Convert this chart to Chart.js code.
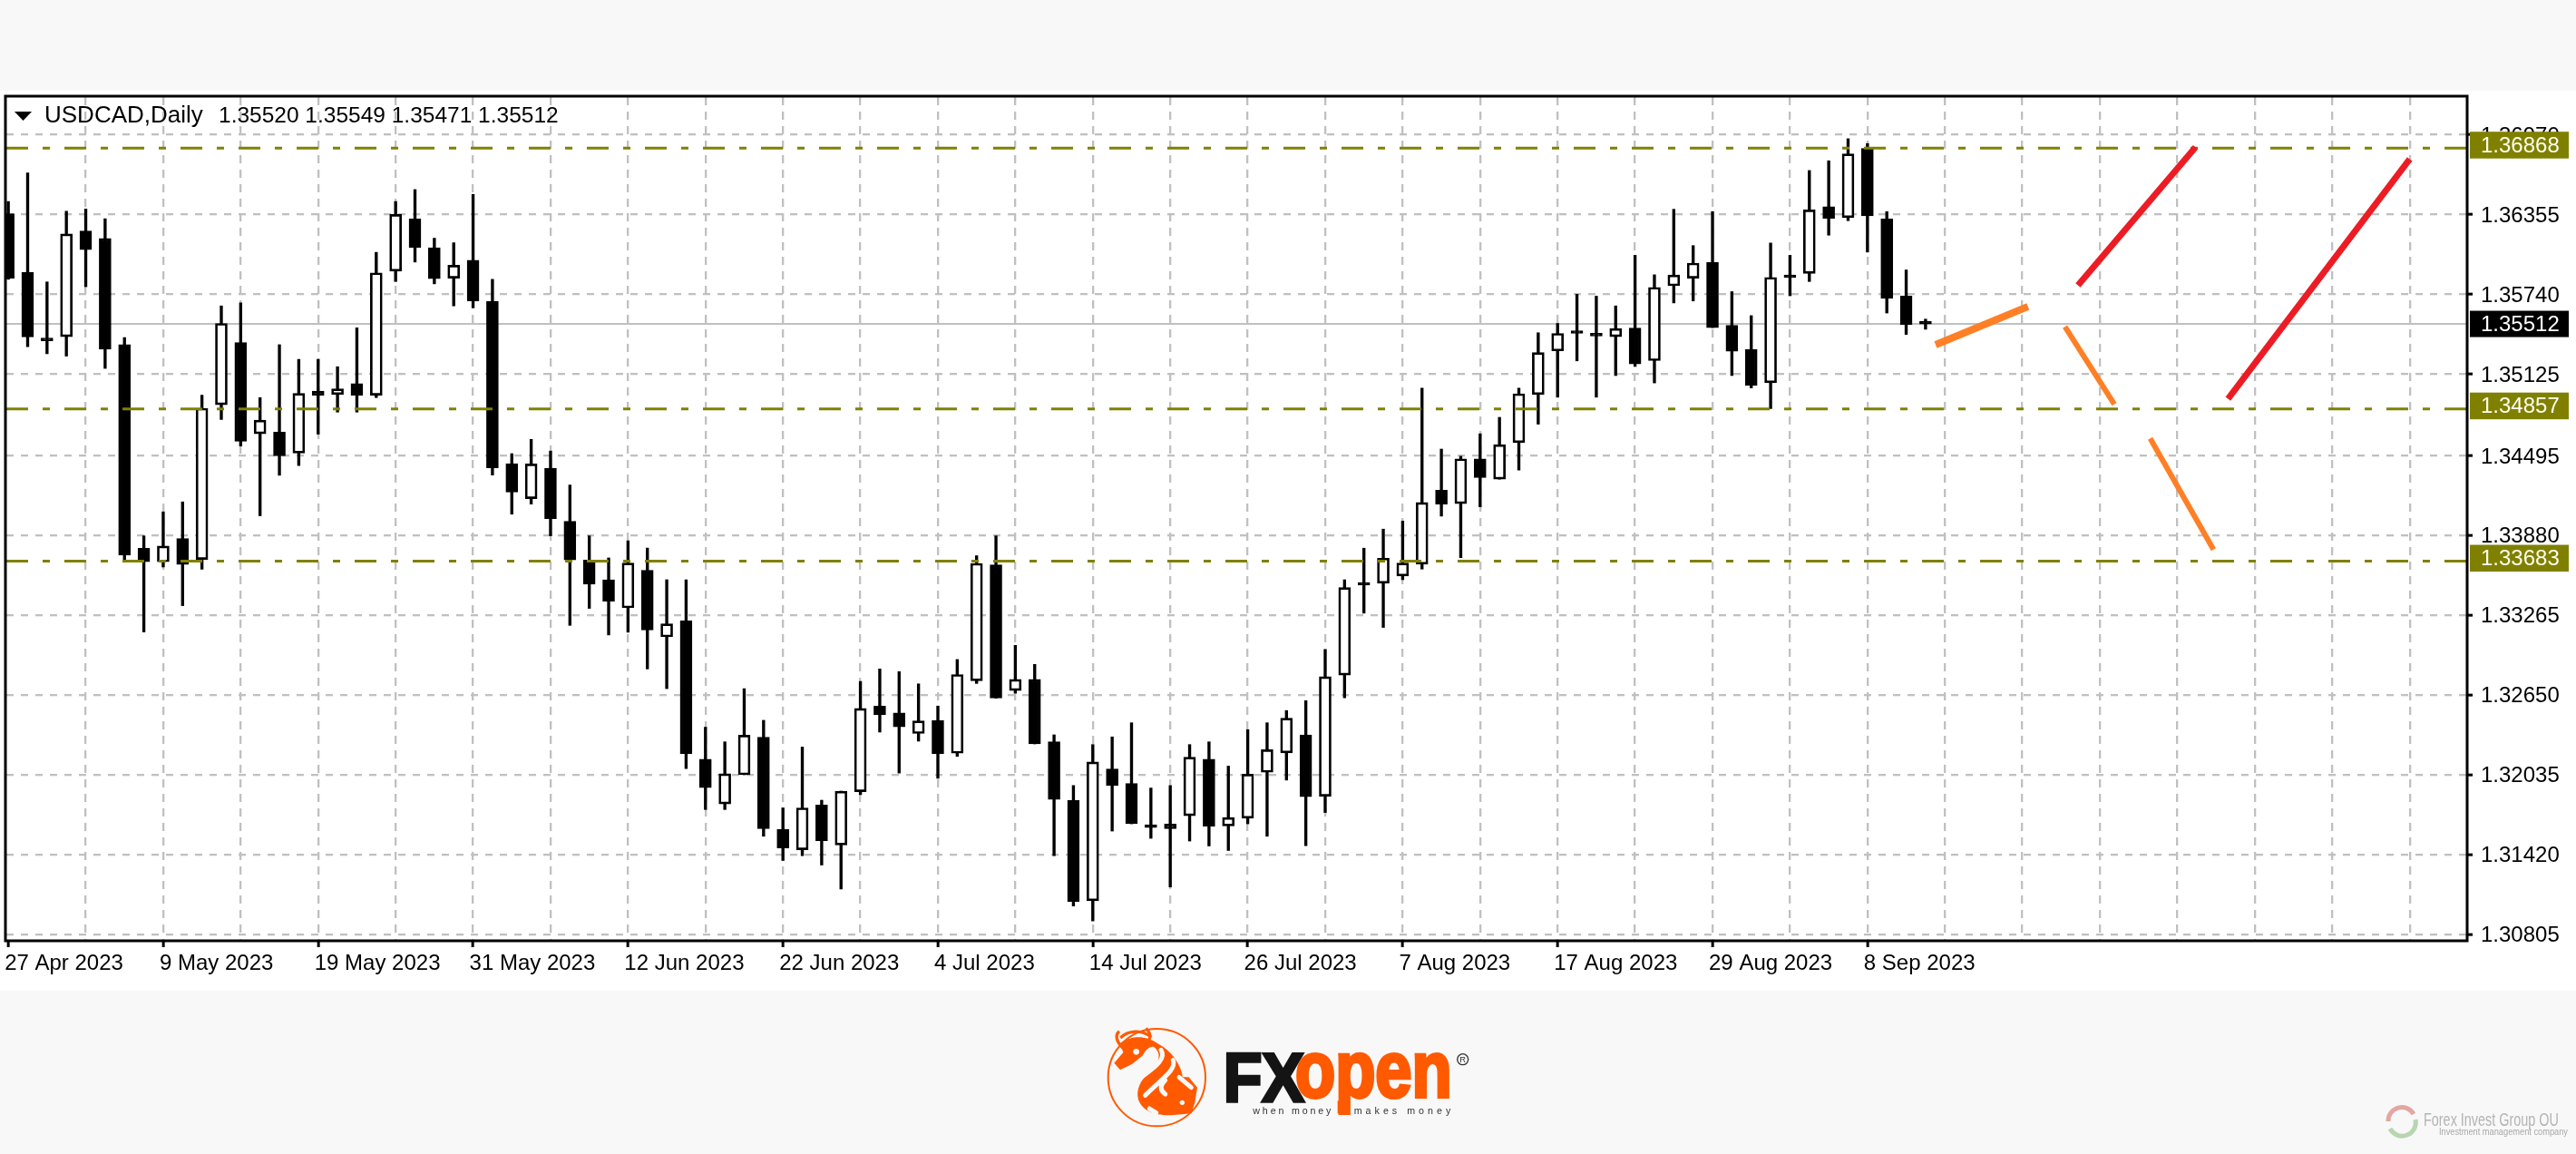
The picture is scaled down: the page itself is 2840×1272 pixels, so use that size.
<!DOCTYPE html>
<html>
<head>
<meta charset="utf-8">
<title>USDCAD,Daily</title>
<script src="https://cdn.jsdelivr.net/npm/chart.js@4"></script>
<style>
html, body { margin: 0; padding: 0; width: 2840px; height: 1272px; overflow: hidden; background: #f8f8f8; }
#sheet { position: absolute; left: 0; top: 100px; width: 2840px; height: 992px; background: #fff; }
#myChart { position: absolute; left: 0; top: 0; }
#logo { position: absolute; left: 1180px; top: 1100px; }
#partner { position: absolute; left: 2620px; top: 1212px; }
</style>
</head>
<body>
<div id="sheet"></div>
<canvas id="myChart" width="2840" height="1272"></canvas>

<svg id="logo" width="500" height="172" viewBox="0 0 1500 516" font-family="Liberation Sans">
  <circle cx="286" cy="263" r="161" fill="none" stroke="#ff5a00" stroke-width="6"/>
  <path fill="#ff5a00" d="M165 150 C200 122 252 124 288 150 C338 176 366 222 372 262 L392 262 L420 296 L412 346 L400 382 L335 388 C285 388 240 378 225 336 C215 300 236 270 260 245 C290 215 305 190 280 165 C270 155 250 168 240 190 L205 218 L165 238 L145 215 L175 180 Z"/>
  <path fill="none" stroke="#ff5a00" stroke-width="10" d="M176 168 C150 142 148 122 162 110 M238 152 C268 142 272 122 250 100 M166 132 C190 108 236 102 268 130"/>
  <path fill="none" stroke="#f8f8f8" stroke-width="15" stroke-linecap="round" d="M300 172 C322 205 262 240 236 262 M340 206 C352 240 296 272 248 322 M314 272 C296 290 296 306 314 318 M262 366 L284 380 M360 262 L400 296"/>
  <circle cx="218" cy="178" r="10" fill="#f8f8f8"/>
  <circle cx="370" cy="346" r="8" fill="#f8f8f8"/>
  <text x="506" y="342" font-size="228" font-weight="bold" fill="#141414" stroke="#141414" stroke-width="10" textLength="268" lengthAdjust="spacingAndGlyphs">FX</text>
  <text x="744" y="328" font-size="262" font-weight="bold" fill="#ff5a00" stroke="#ff5a00" stroke-width="12" textLength="518" lengthAdjust="spacingAndGlyphs">open</text>
  <rect x="884" y="340" width="38" height="42" fill="#ff5a00"/>
  <text x="604" y="384" font-size="32" fill="#333" textLength="258">when money</text>
  <text x="938" y="384" font-size="32" fill="#333" textLength="320">makes money</text>
  <circle cx="1298" cy="203" r="18" fill="none" stroke="#333" stroke-width="4"/>
  <text x="1298" y="214" font-size="28" fill="#333" text-anchor="middle">R</text>
</svg>

<svg id="partner" width="220" height="48" viewBox="0 0 220 48" font-family="Liberation Sans Narrow, Liberation Sans">
  <path d="M13 24 A15 15 0 0 1 41 16" fill="none" stroke="#e3a7a3" stroke-width="5"/>
  <path d="M43 22 A15 15 0 0 1 15 32" fill="none" stroke="#b9d5b2" stroke-width="5"/>
  <text x="52" y="29" font-size="20" fill="#b4b4b4" textLength="149" lengthAdjust="spacingAndGlyphs">Forex Invest Group OU</text>
  <text x="69" y="39" font-size="11" font-family="Liberation Sans" fill="#a8a8a8" textLength="142" lengthAdjust="spacingAndGlyphs">Investment management company</text>
</svg>

<script>
// 13 Sep is the last bar, everything right of it is the hand drawn forecast
const dateLabels = ['27 Apr 2023', '9 May 2023', '19 May 2023', '31 May 2023', '12 Jun 2023', '22 Jun 2023', '4 Jul 2023',
    '14 Jul 2023', '26 Jul 2023', '7 Aug 2023', '17 Aug 2023', '29 Aug 2023', '8 Sep 2023'];

const priceTicks = [1.36970, 1.36355, 1.35740, 1.35125, 1.34495, 1.33880, 1.33265, 1.32650, 1.32035, 1.31420, 1.30805];

const opens = [
    1.36361, 1.35911, 1.35382, 1.35414, 1.36228, 1.36171, 1.35352, 1.33783, 1.33678, 1.33858,
    1.33696, 1.34889, 1.35369, 1.34665, 1.34677, 1.34517, 1.34994, 1.34967, 1.35052, 1.34962,
    1.35919, 1.36321, 1.36099, 1.35864, 1.36004, 1.35686, 1.34435, 1.34165, 1.34400, 1.33990,
    1.33692, 1.33540, 1.33323, 1.33613, 1.33099, 1.33222, 1.32156, 1.31811, 1.32036, 1.32325,
    1.31615, 1.31458, 1.31803, 1.31495, 1.31905, 1.32566, 1.32512, 1.32354, 1.32456, 1.32202,
    1.32761, 1.33655, 1.32686, 1.32772, 1.32290, 1.31840, 1.31064, 1.32081, 1.31969, 1.31629,
    1.31656, 1.31720, 1.32156, 1.31642, 1.31701, 1.32055, 1.32205, 1.32344, 1.31871, 1.32804,
    1.33498, 1.33512, 1.33568, 1.33660, 1.34230, 1.34127, 1.34472, 1.34315, 1.34597, 1.34967,
    1.35304, 1.35439, 1.35419, 1.35414, 1.35481, 1.35229, 1.35806, 1.35864, 1.35986, 1.35501,
    1.35314, 1.35059, 1.35869, 1.35901, 1.36416, 1.36331, 1.36865, 1.36321, 1.35726, 1.35520
];
const highs = [
    1.36456, 1.36676, 1.35836, 1.36381, 1.36398, 1.36323, 1.35407, 1.33878, 1.34063, 1.34140,
    1.34962, 1.35651, 1.35674, 1.34944, 1.35352, 1.35239, 1.35239, 1.35182, 1.35482, 1.36064,
    1.36456, 1.36548, 1.36173, 1.36138, 1.36511, 1.35856, 1.34512, 1.34622, 1.34532, 1.34270,
    1.33878, 1.33708, 1.33840, 1.33784, 1.33540, 1.33540, 1.32403, 1.32290, 1.32700, 1.32456,
    1.31781, 1.32250, 1.31840, 1.31910, 1.32756, 1.32852, 1.32831, 1.32737, 1.32566, 1.32925,
    1.33725, 1.33878, 1.33034, 1.32887, 1.32344, 1.31953, 1.32269, 1.32328, 1.32437, 1.31934,
    1.31953, 1.32269, 1.32290, 1.32103, 1.32384, 1.32437, 1.32531, 1.32608, 1.33002, 1.33540,
    1.33783, 1.33930, 1.33992, 1.35017, 1.34547, 1.34492, 1.34665, 1.34792, 1.35017, 1.35444,
    1.35516, 1.35741, 1.35726, 1.35651, 1.36041, 1.35891, 1.36396, 1.36116, 1.36378, 1.35761,
    1.35576, 1.36136, 1.36041, 1.36695, 1.36770, 1.36940, 1.36903, 1.36378, 1.35928, 1.35549
];
const lows = [
    1.35856, 1.35337, 1.35282, 1.35264, 1.35799, 1.35169, 1.33683, 1.33137, 1.33638, 1.33340,
    1.33620, 1.34775, 1.34570, 1.34033, 1.34345, 1.34420, 1.34662, 1.34832, 1.34832, 1.34944,
    1.35839, 1.35989, 1.35821, 1.35651, 1.35636, 1.34347, 1.34045, 1.34123, 1.33878, 1.33188,
    1.33319, 1.33114, 1.33135, 1.32852, 1.32700, 1.32084, 1.31768, 1.31768, 1.32036, 1.31562,
    1.31375, 1.31412, 1.31340, 1.31155, 1.31883, 1.32365, 1.32049, 1.32295, 1.32009, 1.32178,
    1.32740, 1.32627, 1.32665, 1.32274, 1.31412, 1.31024, 1.30909, 1.31602, 1.31658, 1.31546,
    1.31171, 1.31525, 1.31487, 1.31452, 1.31658, 1.31562, 1.31995, 1.31489, 1.31745, 1.32629,
    1.33282, 1.33172, 1.33540, 1.33622, 1.34030, 1.33710, 1.34102, 1.34315, 1.34385, 1.34739,
    1.34947, 1.35227, 1.34947, 1.35114, 1.35184, 1.35057, 1.35674, 1.35689, 1.35484, 1.35114,
    1.35019, 1.34859, 1.35729, 1.35839, 1.36196, 1.36308, 1.36066, 1.35596, 1.35431, 1.35471
];
const closes = [
    1.35864, 1.35412, 1.35382, 1.36206, 1.36084, 1.35317, 1.33730, 1.33678, 1.33800, 1.33657,
    1.34862, 1.35516, 1.34607, 1.34770, 1.34495, 1.34977, 1.34962, 1.35012, 1.34962, 1.35906,
    1.36356, 1.36101, 1.35861, 1.35964, 1.35689, 1.34402, 1.34215, 1.34432, 1.34010, 1.33692,
    1.33505, 1.33375, 1.33668, 1.33152, 1.33200, 1.32199, 1.31937, 1.32044, 1.32341, 1.31621,
    1.31471, 1.31781, 1.31527, 1.31910, 1.32547, 1.32499, 1.32405, 1.32451, 1.32199, 1.32809,
    1.33666, 1.32627, 1.32772, 1.32274, 1.31846, 1.31059, 1.32135, 1.31955, 1.31658, 1.31629,
    1.31621, 1.32172, 1.31640, 1.31707, 1.32041, 1.32229, 1.32473, 1.31867, 1.32792, 1.33480,
    1.33498, 1.33706, 1.33668, 1.34135, 1.34122, 1.34472, 1.34327, 1.34582, 1.34974, 1.35291,
    1.35439, 1.35439, 1.35419, 1.35476, 1.35204, 1.35794, 1.35889, 1.35981, 1.35484, 1.35301,
    1.35039, 1.35871, 1.35869, 1.36391, 1.36326, 1.36823, 1.36346, 1.35709, 1.35506, 1.35512
];

const levelPrices = [1.36868, 1.34857, 1.33683];
const lastPrice = 1.35512;

// forecast strokes as [bar, price] pairs
const orangeUp = [[99.52, 1.35351], [104.29, 1.35646]];
const orangeDown1 = [[106.20, 1.35491], [108.75, 1.34892]];
const orangeDown2 = [[110.60, 1.34630], [113.87, 1.33773]];
const redUp1 = [[106.87, 1.35809], [112.94, 1.36875]];
const redUp2 = [[114.62, 1.34934], [124.00, 1.36783]];

const xMin = -0.1, xMax = 126.92;
const yMin = 1.30763, yMax = 1.37261;

const black = '#000000', olive = '#808000', gridGray = '#c0c0c0';
const axisFont = { family: 'Liberation Sans', size: 24 };

function stroke(points, color, width) {
    return {
        type: 'line',
        data: points.map(p => ({ x: p[0], y: p[1] })),
        borderColor: color,
        borderWidth: width,
        pointRadius: 0,
        order: 1
    };
}

function flatLine(price, color, width, dash, order) {
    return {
        type: 'line',
        data: [{ x: xMin, y: price }, { x: xMax, y: price }],
        borderColor: color,
        borderWidth: width,
        borderDash: dash,
        pointRadius: 0,
        order: order
    };
}

const wicks = {
    data: highs.map((h, i) => ({ x: i, y: [lows[i], h] })),
    backgroundColor: black,
    barThickness: 2.7,
    grouped: false,
    order: 4
};

const bodies = {
    data: opens.map((o, i) => ({ x: i, y: [o, closes[i]] })),
    backgroundColor: c => closes[c.dataIndex] > opens[c.dataIndex] ? '#ffffff' : black,
    borderColor: black,
    borderWidth: 2.7,
    borderSkipped: false,
    barThickness: 13,
    minBarLength: 3,
    grouped: false,
    order: 3
};

// price tags, frame and the header line
const chartDecor = {
    id: 'chartDecor',
    afterDraw(chart) {
        const ctx = chart.ctx, area = chart.chartArea, y = chart.scales.y;
        ctx.save();

        ctx.strokeStyle = black;
        ctx.lineWidth = 3;
        ctx.strokeRect(area.left - 1, area.top - 1, area.right - area.left + 2, area.bottom - area.top + 2);

        ctx.font = '24px "Liberation Sans"';
        ctx.textBaseline = 'middle';
        levelPrices.forEach(p => {
            let py = y.getPixelForValue(p) - 3;
            ctx.fillStyle = olive;
            ctx.fillRect(2723, py - 15, 109, 29.5);
            ctx.fillStyle = '#fffff0';
            ctx.fillText(p.toFixed(5), 2735, py + 1);
        });
        let py = y.getPixelForValue(lastPrice);
        ctx.fillStyle = black;
        ctx.fillRect(2723, py - 14.5, 109, 29);
        ctx.fillStyle = '#ffffff';
        ctx.fillText(lastPrice.toFixed(5), 2735, py + 1);

        ctx.fillStyle = black;
        ctx.beginPath();
        ctx.moveTo(16, 123);
        ctx.lineTo(35, 123);
        ctx.lineTo(25.5, 133);
        ctx.closePath();
        ctx.fill();

        ctx.textBaseline = 'alphabetic';
        ctx.font = '26px "Liberation Sans"';
        ctx.fillText('USDCAD,Daily', 49, 135);
        ctx.font = '24.5px "Liberation Sans"';
        ctx.fillText([opens[99], highs[99], lows[99], closes[99]].map(v => v.toFixed(5)).join(' '), 241, 135);
        ctx.restore();
    }
};

const ctx = document.getElementById('myChart').getContext('2d');

let chart = new Chart(ctx, {
    type: 'bar',
    data: {
        datasets: [
            flatLine(lastPrice, gridGray, 2, [], 5),
            wicks,
            bodies,
            ...levelPrices.map(p => flatLine(p, olive, 3, [24, 16, 8, 16], 2)),
            stroke(orangeUp, '#ff7f27', 8),
            stroke(orangeDown1, '#ff7f27', 6),
            stroke(orangeDown2, '#ff7f27', 6),
            stroke(redUp1, '#ed1c24', 7),
            stroke(redUp2, '#ed1c24', 7)
        ]
    },
    options: {
        responsive: false,
        animation: false,
        devicePixelRatio: 1,
        layout: { padding: { left: 7, top: 107, right: 0, bottom: 186 } },
        plugins: { legend: { display: false }, tooltip: { enabled: false } },
        scales: {
            x: {
                type: 'linear',
                offset: false,
                min: xMin,
                max: xMax,
                afterBuildTicks: scale => {
                    let list = [];
                    for (let i = 0; i <= 124; i += 4) list.push({ value: i });
                    scale.ticks = list;
                },
                afterFit: scale => { scale.height = 50; },
                border: { display: false, dash: [9, 7] },
                grid: {
                    offset: false,
                    lineWidth: 2.3,
                    color: c => c.tick && c.tick.value === 0 ? 'rgba(0,0,0,0)' : gridGray,
                    tickLength: 8,
                    tickWidth: 3,
                    tickColor: c => c.tick && c.tick.value % 8 === 0 && c.tick.value <= 96 ? black : 'rgba(0,0,0,0)'
                },
                ticks: {
                    autoSkip: false,
                    maxRotation: 0,
                    align: 'start',
                    labelOffset: -4,
                    padding: 3.5,
                    color: black,
                    font: axisFont,
                    callback: v => v % 8 === 0 && v / 8 < dateLabels.length ? dateLabels[v / 8] : ''
                }
            },
            y: {
                position: 'right',
                min: yMin,
                max: yMax,
                afterBuildTicks: scale => { scale.ticks = priceTicks.map(v => ({ value: v })); },
                afterFit: scale => { scale.width = 121; },
                border: { display: false, dash: [8, 8] },
                grid: {
                    lineWidth: 2.3,
                    color: gridGray,
                    tickLength: 7,
                    tickWidth: 3,
                    tickColor: black
                },
                ticks: {
                    autoSkip: false,
                    padding: 9,
                    labelOffset: 1.5,
                    color: black,
                    font: axisFont,
                    callback: v => v.toFixed(5)
                }
            }
        }
    },
    plugins: [chartDecor]
});
</script>
</body>
</html>
